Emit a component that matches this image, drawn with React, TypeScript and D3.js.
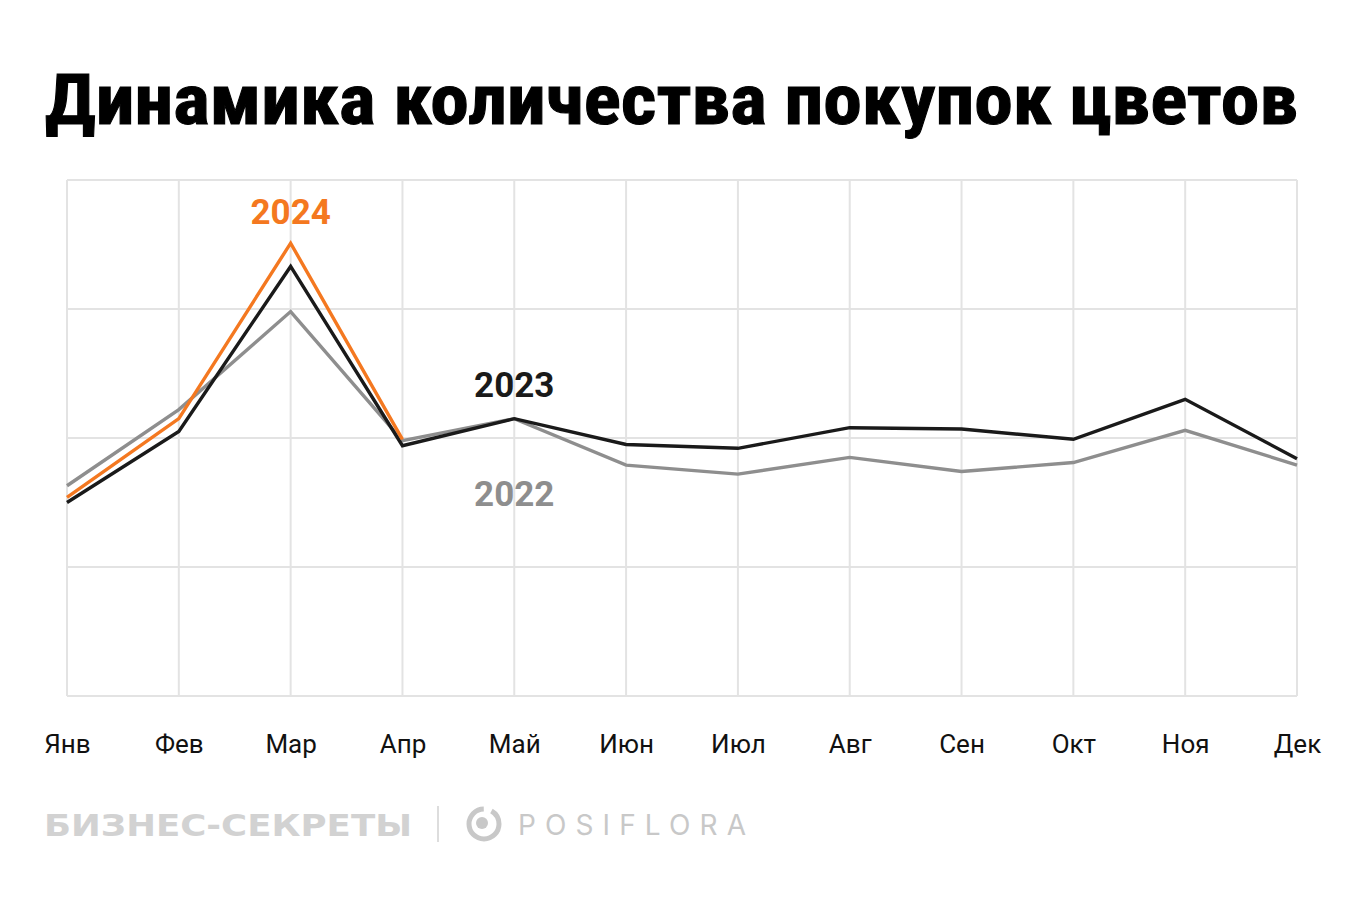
import { useEffect, useRef } from 'react';
import * as d3 from 'd3';

const width = 1360;
const height = 907;
const [mt, mr, mb, ml] = [180, 63, 211, 67];
const graphWidth = width - ml - mr;
const graphHeight = height - mt - mb;

const months = ['Янв', 'Фев', 'Мар', 'Апр', 'Май', 'Июн', 'Июл', 'Авг', 'Сен', 'Окт', 'Ноя', 'Дек'];
const yTicks = [0, 1, 2, 3, 4];

// значения (условные единицы)
const values2022 = [1.63, 2.22, 2.98, 1.98, 2.15, 1.79, 1.72, 1.85, 1.74, 1.81, 2.06, 1.79];
const values2023 = [1.5, 2.05, 3.33, 1.94, 2.15, 1.95, 1.92, 2.08, 2.07, 1.99, 2.3, 1.84];
const values2024 = [1.54, 2.15, 3.51, 1.99];

const series = [
    { name: '2022', values: values2022, color: '#8e8e8e' },
    { name: '2023', values: values2023, color: '#1a1a1a' },
    { name: '2024', values: values2024, color: '#f47820' }
];

function App() {
    const chart = useRef<SVGSVGElement | null>(null);

    useEffect(() => {
        const svg = d3.select(chart.current);
        svg.selectAll('*').remove();

        svg.append('rect').attr('width', width).attr('height', height).attr('fill', '#fff');

        // заголовок
        svg.append('text')
            .attr('x', 45)
            .attr('y', 124)
            .attr('textLength', 1253)
            .attr('lengthAdjust', 'spacingAndGlyphs')
            .attr('font-family', '"Liberation Sans Narrow", "Roboto Condensed", sans-serif')
            .attr('font-weight', 700)
            .attr('font-size', 70)
            .attr('fill', '#000')
            .attr('stroke', '#000')
            .attr('stroke-width', 1)
            .text('Динамика количества покупок цветов');

        const graph = svg.append('g').attr('transform', `translate(${ml}, ${mt})`);

        const x = d3.scalePoint().domain(months).range([0, graphWidth]);
        const y = d3.scaleLinear().domain([0, 4]).range([graphHeight, 0]);

        // сетка
        graph.append('g')
            .selectAll('line')
            .data(yTicks)
            .join('line')
            .attr('x1', 0)
            .attr('x2', graphWidth)
            .attr('y1', (d) => y(d))
            .attr('y2', (d) => y(d))
            .attr('stroke', '#e3e3e3')
            .attr('stroke-width', 2);

        graph.append('g')
            .selectAll('line')
            .data(months)
            .join('line')
            .attr('x1', (d) => x(d)!)
            .attr('x2', (d) => x(d)!)
            .attr('y1', 0)
            .attr('y2', graphHeight)
            .attr('stroke', '#e3e3e3')
            .attr('stroke-width', 2);

        // подписи месяцев
        const xAxis = d3.axisBottom(x).tickSize(0).tickPadding(39);
        graph.append('g')
            .attr('transform', `translate(0, ${graphHeight})`)
            .call(xAxis)
            .call((g) => g.select('.domain').remove())
            .call((g) =>
                g
                    .selectAll('text')
                    .attr('font-family', 'Roboto, sans-serif')
                    .attr('font-size', 26)
                    .attr('fill', '#111')
            );

        const line = d3
            .line<number>()
            .x((_, i) => x(months[i])!)
            .y((d) => y(d));

        graph.append('g')
            .selectAll('path')
            .data(series)
            .join('path')
            .attr('d', (d) => line(d.values))
            .attr('fill', 'none')
            .attr('stroke', (d) => d.color)
            .attr('stroke-width', 3.4)
            .attr('stroke-linejoin', 'miter');

        // подписи серий
        const labels = [
            { text: '2024', month: 'Мар', y: 224, color: '#f47820' },
            { text: '2023', month: 'Май', y: 397, color: '#1a1a1a' },
            { text: '2022', month: 'Май', y: 506, color: '#8e8e8e' }
        ];
        svg.append('g')
            .selectAll('text')
            .data(labels)
            .join('text')
            .attr('x', (d) => ml + x(d.month)!)
            .attr('y', (d) => d.y)
            .attr('text-anchor', 'middle')
            .attr('font-family', 'Roboto, sans-serif')
            .attr('font-weight', 700)
            .attr('font-size', 35)
            .attr('fill', (d) => d.color)
            .text((d) => d.text);

        // подвал
        const footer = svg.append('g');
        footer.append('text')
            .attr('x', 44)
            .attr('y', 836)
            .attr('textLength', 368)
            .attr('lengthAdjust', 'spacingAndGlyphs')
            .attr('font-family', '"DejaVu Sans", sans-serif')
            .attr('font-weight', 700)
            .attr('font-size', 30)
            .attr('fill', '#d2d2d2')
            .text('БИЗНЕС-СЕКРЕТЫ');
        footer.append('line')
            .attr('x1', 438)
            .attr('x2', 438)
            .attr('y1', 806)
            .attr('y2', 842)
            .attr('stroke', '#d2d2d2')
            .attr('stroke-width', 1.5);
        footer.append('circle')
            .attr('cx', 484)
            .attr('cy', 824)
            .attr('r', 15)
            .attr('fill', 'none')
            .attr('stroke', '#c8c8c8')
            .attr('stroke-width', 5)
            .attr('stroke-dasharray', '70 8');
        footer.append('circle').attr('cx', 482).attr('cy', 823).attr('r', 6).attr('fill', '#c8c8c8');
        footer.append('text')
            .attr('x', 518)
            .attr('y', 835)
            .attr('textLength', 228)
            .attr('lengthAdjust', 'spacing')
            .attr('font-family', 'Inter, sans-serif')
            .attr('font-weight', 400)
            .attr('font-size', 28)
            .attr('fill', '#c8c8c8')
            .text('POSIFLORA');
    }, []);

    return (
        <svg
            ref={chart}
            width={width}
            height={height}
            viewBox={`0 0 ${width} ${height}`}
            style={{ position: 'absolute', left: 0, top: 0, display: 'block' }}
        />
    );
}

export default App;
